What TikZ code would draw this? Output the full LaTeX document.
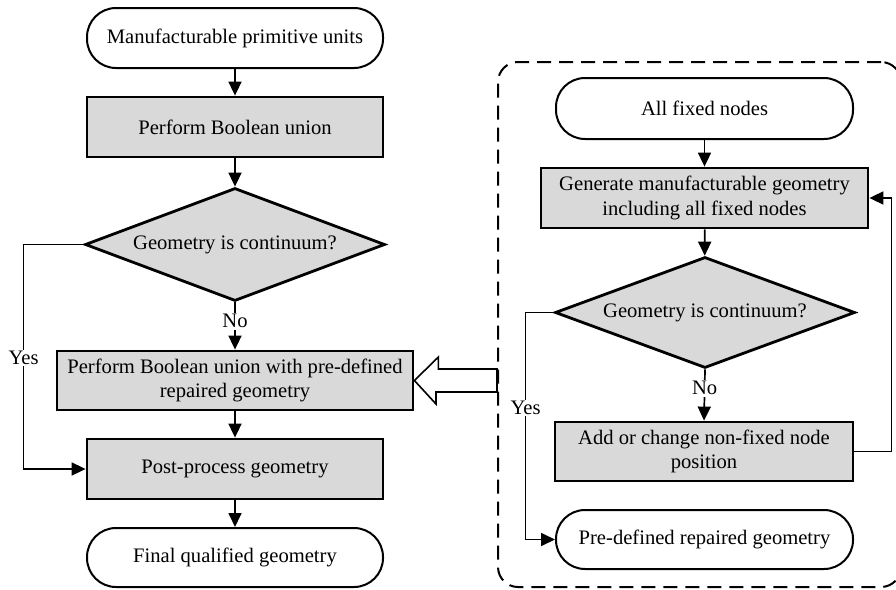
\documentclass[tikz,border=0pt]{standalone}
\usepackage{fontspec}
\setmainfont{Liberation Serif}
\usepackage{tikz}
\usetikzlibrary{arrows.meta,shapes.geometric}

\begin{document}
\begin{tikzpicture}[x=1pt, y=-1pt,
    every node/.style={font=\fontsize{20.6}{24.5}\selectfont, align=center},
    term/.style={draw, line width=2pt, rounded corners=29pt, minimum width=296pt, minimum height=60pt},
    proc/.style={draw, line width=2.8pt, fill=black!15, minimum width=296pt, minimum height=60pt},
    decide/.style={draw, diamond, aspect=2.6, inner sep=0pt, line width=2.8pt, fill=black!15,
      minimum width=300pt, minimum height=113pt},
    flow/.style={line width=1.7pt, -{Triangle[length=14pt, width=13pt]}},
    lbl/.style={fill=white, inner sep=1.5pt}]
    \clip (0,0) rectangle (896,589);
    % left flow
    \node[term] (start) at (235,38) {Manufacturable primitive units};
    \node[proc] (union) at (235,127) {Perform Boolean union};
    \node[decide] (cont) at (235,244.5) {Geometry is continuum?};
    \node[proc, minimum width=356pt, minimum height=59pt] (repair) at (235,380.5)
      {Perform Boolean union with pre-defined\\repaired geometry};
    \node[proc] (post) at (235,469) {Post-process geometry};
    \node[term, minimum height=59pt] (final) at (235,557.5) {Final qualified geometry};
    \draw[flow] (start) -- (union);
    \draw[flow] (union) -- (cont);
    \draw[flow] (cont.south) -- node[lbl, pos=0.4] {No} (repair.north);
    \draw[flow] (cont.west) -- ++(-60,0) |- node[lbl, pos=0.253] {Yes} (post.west);
    \draw[flow] (repair) -- (post);
    \draw[flow] (post) -- (final);
    % right flow inside dashed frame
    \node[draw, line width=2pt, dash pattern=on 14pt off 8pt, rounded corners=20pt,
      minimum width=403pt, minimum height=525pt] (grp) at (699.5,324.5) {};
    \node[term, minimum width=297pt, minimum height=61pt] (fixed) at (704.5,108.5) {All fixed nodes};
    \node[proc, minimum width=327pt] (gen) at (704.5,198)
      {Generate manufacturable geometry\\including all fixed nodes};
    \node[decide, minimum height=111pt] (cont2) at (705,312.5) {Geometry is continuum?};
    \node[proc, minimum width=298pt, minimum height=59pt] (change) at (704,451.5)
      {Add or change non-fixed node\\position};
    \node[term, minimum width=297pt, minimum height=59pt] (predef) at (704.5,539.5)
      {Pre-defined repaired geometry};
    \draw[flow] (fixed) -- (gen);
    \draw[flow] (gen) -- (cont2);
    \draw[flow] (cont2.south) -- node[lbl, pos=0.37] {No} (change.north);
    \draw[flow] (cont2.west) -- ++(-28,0) |- node[lbl, pos=0.21] {Yes} (predef.west);
    \draw[flow] (change.east) -- ++(37,0) |- (gen.east);
    % hollow arrow from frame to left flow
    \coordinate (fromgrp) at (grp.west |- repair.east);
    \draw[line width=1.6pt, fill=white] (repair.east) -- ++(24,-23.5) -- ++(0,12)
      -- ([yshift=11.5pt]fromgrp) -- ([yshift=-11.5pt]fromgrp) -- ++(-61,0)
      -- ++(0,12) -- cycle;
\end{tikzpicture}
\end{document}
